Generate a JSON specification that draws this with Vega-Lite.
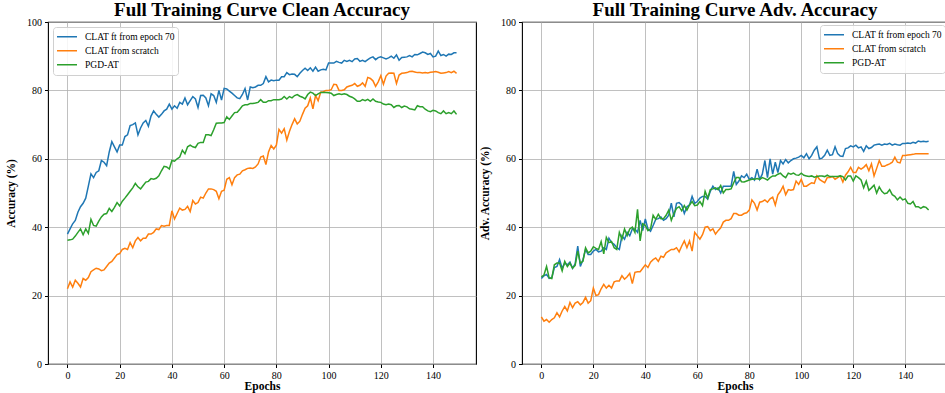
{
"$schema": "https://vega.github.io/schema/vega-lite/v6.json",
"padding": {"left": 4, "top": 0, "right": 2, "bottom": 0},
"config": {
 "font": "Liberation Serif",
 "view": {"stroke": "black", "strokeWidth": 1.1},
 "axis": {"labelFont": "Liberation Serif", "labelFontSize": 10, "labelColor": "black", "titleFont": "Liberation Serif", "titleFontSize": 11.5, "titleFontWeight": "bold", "titleColor": "black", "tickColor": "black", "tickSize": 3.5, "domain": false, "gridColor": "#b0b0b0", "gridWidth": 0.8, "gridOpacity": 1, "labelPadding": 3},
 "title": {"font": "Liberation Serif", "fontSize": 19, "fontWeight": "bold", "color": "black", "anchor": "middle", "offset": -3},
 "legend": {"labelFont": "Liberation Serif", "labelFontSize": 9.5, "labelColor": "black", "strokeColor": "#d0d0d0", "fillColor": "rgba(255,255,255,0.85)", "cornerRadius": 3, "padding": 3, "symbolType": "stroke", "symbolSize": 400, "symbolStrokeWidth": 1.5, "labelOffset": 7, "rowPadding": 0, "clipHeight": 13.3}
},
"datasets": {
"clean": [
{"e":0,"ft":38,"sc":22,"pgd":36.2},{"e":1,"ft":39.5,"sc":24,"pgd":36.3},{"e":2,"ft":41,"sc":22.5,"pgd":36.5},{"e":3,"ft":42,"sc":24.5,"pgd":37.4},{"e":4,"ft":44.4,"sc":23.6,"pgd":38.5},{"e":5,"ft":46,"sc":22.5,"pgd":39.5},{"e":6,"ft":47,"sc":25,"pgd":37.8},{"e":7,"ft":48.5,"sc":24.5,"pgd":39.5},{"e":8,"ft":52,"sc":25.3,"pgd":38.2},{"e":9,"ft":55.6,"sc":27,"pgd":42.3},
{"e":10,"ft":54.5,"sc":27.5,"pgd":40.5},{"e":11,"ft":56,"sc":28,"pgd":40.3},{"e":12,"ft":56.5,"sc":27.8,"pgd":41.8},{"e":13,"ft":59.5,"sc":27.3,"pgd":43},{"e":14,"ft":59,"sc":27.5,"pgd":43.8},{"e":15,"ft":58,"sc":28.5,"pgd":44},{"e":16,"ft":62,"sc":29.5,"pgd":45.5},{"e":17,"ft":65,"sc":30,"pgd":44.6},{"e":18,"ft":63.5,"sc":31,"pgd":45.8},{"e":19,"ft":62,"sc":32,"pgd":47.2},
{"e":20,"ft":64,"sc":32.3,"pgd":46.2},{"e":21,"ft":64,"sc":33.5,"pgd":47.6},{"e":22,"ft":66.5,"sc":33.8,"pgd":48.5},{"e":23,"ft":67,"sc":33.5,"pgd":49.5},{"e":24,"ft":69.7,"sc":35.5,"pgd":50.5},{"e":25,"ft":70,"sc":34,"pgd":51.5},{"e":26,"ft":70.5,"sc":36,"pgd":52.8},{"e":27,"ft":67,"sc":37,"pgd":51.8},{"e":28,"ft":69,"sc":36,"pgd":51.2},{"e":29,"ft":70.5,"sc":36.8,"pgd":52.2},
{"e":30,"ft":71.2,"sc":36.8,"pgd":53.2},{"e":31,"ft":69.5,"sc":38,"pgd":53.4},{"e":32,"ft":72.5,"sc":38,"pgd":54.2},{"e":33,"ft":74,"sc":38.5,"pgd":54},{"e":34,"ft":73,"sc":39.5,"pgd":54.3},{"e":35,"ft":72.2,"sc":39.3,"pgd":55},{"e":36,"ft":73,"sc":40.5,"pgd":56.5},{"e":37,"ft":74,"sc":40.3,"pgd":57.8},{"e":38,"ft":74.5,"sc":40.5,"pgd":57.6},{"e":39,"ft":76,"sc":40.5,"pgd":57},
{"e":40,"ft":74.5,"sc":44.8,"pgd":59.5},{"e":41,"ft":75.5,"sc":42.4,"pgd":59.3},{"e":42,"ft":74.8,"sc":44,"pgd":60},{"e":43,"ft":76.5,"sc":45.6,"pgd":60.5},{"e":44,"ft":76,"sc":45,"pgd":62.5},{"e":45,"ft":77.8,"sc":45.2,"pgd":61.5},{"e":46,"ft":75.8,"sc":46.1,"pgd":63.5},{"e":47,"ft":77,"sc":44.6,"pgd":64},{"e":48,"ft":78.2,"sc":47.8,"pgd":63.5},{"e":49,"ft":77.5,"sc":46.8,"pgd":63.3},
{"e":50,"ft":75,"sc":47.2,"pgd":64.5},{"e":51,"ft":78.5,"sc":48.8,"pgd":64.8},{"e":52,"ft":78.6,"sc":48.5,"pgd":64.8},{"e":53,"ft":77.8,"sc":50,"pgd":67},{"e":54,"ft":75.5,"sc":51.2,"pgd":67},{"e":55,"ft":79,"sc":51.2,"pgd":66.8},{"e":56,"ft":78.5,"sc":51,"pgd":68.5},{"e":57,"ft":76.5,"sc":50.5,"pgd":70.4},{"e":58,"ft":80,"sc":48.3,"pgd":70.5},{"e":59,"ft":77.2,"sc":50.5,"pgd":70.5},
{"e":60,"ft":80.6,"sc":50.8,"pgd":70.6},{"e":61,"ft":80.4,"sc":54,"pgd":72.3},{"e":62,"ft":79.8,"sc":54.5,"pgd":71.5},{"e":63,"ft":79.2,"sc":52.4,"pgd":72.5},{"e":64,"ft":78.5,"sc":54.5,"pgd":73.5},{"e":65,"ft":77.8,"sc":55.3,"pgd":73.6},{"e":66,"ft":77.6,"sc":55.5,"pgd":74.5},{"e":67,"ft":78.8,"sc":56.5,"pgd":75.5},{"e":68,"ft":80.5,"sc":56.8,"pgd":75.8},{"e":69,"ft":77.2,"sc":57.2,"pgd":75.8},
{"e":70,"ft":81,"sc":57.3,"pgd":76.2},{"e":71,"ft":80.8,"sc":57.2,"pgd":76.2},{"e":72,"ft":81,"sc":57.6,"pgd":76.3},{"e":73,"ft":81.5,"sc":58.5,"pgd":76.5},{"e":74,"ft":81.5,"sc":60.5,"pgd":77.3},{"e":75,"ft":82,"sc":60.8,"pgd":76.5},{"e":76,"ft":84,"sc":58.3,"pgd":76.5},{"e":77,"ft":82.5,"sc":62,"pgd":77},{"e":78,"ft":83,"sc":63.9,"pgd":77},{"e":79,"ft":82.8,"sc":62.9,"pgd":77.3},
{"e":80,"ft":83,"sc":64,"pgd":77.3},{"e":81,"ft":83,"sc":68.6,"pgd":77.3},{"e":82,"ft":84,"sc":67.5,"pgd":77.5},{"e":83,"ft":84,"sc":68.8,"pgd":78.2},{"e":84,"ft":85.2,"sc":65.5,"pgd":77.5},{"e":85,"ft":84.6,"sc":68,"pgd":78.2},{"e":86,"ft":84.8,"sc":70,"pgd":77.8},{"e":87,"ft":84.7,"sc":71.7,"pgd":78.5},{"e":88,"ft":84,"sc":70.2,"pgd":78.8},{"e":89,"ft":85,"sc":71,"pgd":78.3},
{"e":90,"ft":85.8,"sc":73,"pgd":78},{"e":91,"ft":86.5,"sc":74.8,"pgd":77.5},{"e":92,"ft":85.8,"sc":75.5,"pgd":78.8},{"e":93,"ft":86.6,"sc":77.8,"pgd":79.5},{"e":94,"ft":85.6,"sc":74.6,"pgd":79.2},{"e":95,"ft":86.8,"sc":78.5,"pgd":78.5},{"e":96,"ft":85.6,"sc":77,"pgd":79},{"e":97,"ft":86,"sc":79.5,"pgd":79.4},{"e":98,"ft":86.2,"sc":79.6,"pgd":79.4},{"e":99,"ft":86,"sc":80,"pgd":79.4},
{"e":100,"ft":88,"sc":80,"pgd":79.3},{"e":101,"ft":88,"sc":80.2,"pgd":79.2},{"e":102,"ft":88,"sc":81.8,"pgd":78.5},{"e":103,"ft":88.5,"sc":81.7,"pgd":78.8},{"e":104,"ft":88.2,"sc":80,"pgd":79},{"e":105,"ft":88,"sc":80,"pgd":78.8},{"e":106,"ft":88.8,"sc":80.2,"pgd":79},{"e":107,"ft":88.5,"sc":81,"pgd":78.8},{"e":108,"ft":88.8,"sc":81.3,"pgd":78.3},{"e":109,"ft":88.4,"sc":81.5,"pgd":78},
{"e":110,"ft":89.2,"sc":82,"pgd":77.5},{"e":111,"ft":89.3,"sc":81.2,"pgd":76.8},{"e":112,"ft":88.5,"sc":81.5,"pgd":76.8},{"e":113,"ft":88.8,"sc":82.2,"pgd":77.3},{"e":114,"ft":88.4,"sc":81.2,"pgd":77},{"e":115,"ft":89,"sc":83.8,"pgd":77.4},{"e":116,"ft":89.5,"sc":83.5,"pgd":76.8},{"e":117,"ft":89.8,"sc":82.8,"pgd":77.5},{"e":118,"ft":89,"sc":81.2,"pgd":76.8},{"e":119,"ft":89.6,"sc":82.5,"pgd":76.6},
{"e":120,"ft":89.8,"sc":84.3,"pgd":76.5},{"e":121,"ft":89.5,"sc":81.8,"pgd":76},{"e":122,"ft":89.2,"sc":84.2,"pgd":75.8},{"e":123,"ft":89.5,"sc":85,"pgd":76},{"e":124,"ft":90,"sc":85.1,"pgd":75.8},{"e":125,"ft":89.4,"sc":85,"pgd":75},{"e":126,"ft":90.4,"sc":82,"pgd":75.5},{"e":127,"ft":88.8,"sc":84.5,"pgd":75.6},{"e":128,"ft":89.6,"sc":85,"pgd":75},{"e":129,"ft":89.7,"sc":85.1,"pgd":75.4},
{"e":130,"ft":89.8,"sc":85.2,"pgd":75.2},{"e":131,"ft":90.2,"sc":85.5,"pgd":74.6},{"e":132,"ft":89.8,"sc":85.6,"pgd":74.5},{"e":133,"ft":90.5,"sc":85.4,"pgd":74.3},{"e":134,"ft":90.4,"sc":85.2,"pgd":75.5},{"e":135,"ft":90.8,"sc":85.2,"pgd":75.2},{"e":136,"ft":91.2,"sc":85.1,"pgd":75.2},{"e":137,"ft":91,"sc":85.2,"pgd":74.5},{"e":138,"ft":90.5,"sc":85.1,"pgd":74},{"e":139,"ft":90.8,"sc":85.3,"pgd":73.8},
{"e":140,"ft":89.8,"sc":85.4,"pgd":74.2},{"e":141,"ft":90,"sc":85.5,"pgd":74},{"e":142,"ft":91.5,"sc":85.3,"pgd":73.5},{"e":143,"ft":90.2,"sc":85,"pgd":73.2},{"e":144,"ft":90.5,"sc":85.1,"pgd":74},{"e":145,"ft":90,"sc":85.2,"pgd":73.2},{"e":146,"ft":90.6,"sc":85.5,"pgd":73.5},{"e":147,"ft":90.5,"sc":85.2,"pgd":73.2},{"e":148,"ft":91,"sc":85.6,"pgd":74},{"e":149,"ft":91,"sc":85,"pgd":73}
],
"adv": [
{"e":0,"ft":25,"sc":13.8,"pgd":25.5},{"e":1,"ft":25.8,"sc":12.5,"pgd":26},{"e":2,"ft":26.2,"sc":13,"pgd":28.5},{"e":3,"ft":25,"sc":12.2,"pgd":25.2},{"e":4,"ft":25.2,"sc":13,"pgd":25},{"e":5,"ft":28.2,"sc":13.5,"pgd":29},{"e":6,"ft":28.5,"sc":15,"pgd":29.5},{"e":7,"ft":30.5,"sc":13.8,"pgd":29.5},{"e":8,"ft":28,"sc":15.5,"pgd":27.2},{"e":9,"ft":29.5,"sc":16.8,"pgd":30},
{"e":10,"ft":29,"sc":15.5,"pgd":28.5},{"e":11,"ft":29.8,"sc":18,"pgd":29.5},{"e":12,"ft":28,"sc":16.5,"pgd":28},{"e":13,"ft":29.3,"sc":17.8,"pgd":28.8},{"e":14,"ft":34.5,"sc":18.2,"pgd":33},{"e":15,"ft":28.5,"sc":17.3,"pgd":29.5},{"e":16,"ft":30.5,"sc":18,"pgd":30},{"e":17,"ft":33.5,"sc":19.5,"pgd":34},{"e":18,"ft":32,"sc":17.8,"pgd":32.5},{"e":19,"ft":32,"sc":18.5,"pgd":33},
{"e":20,"ft":33,"sc":22.2,"pgd":34.3},{"e":21,"ft":33.5,"sc":20,"pgd":33.8},{"e":22,"ft":32.8,"sc":20.3,"pgd":33.5},{"e":23,"ft":33,"sc":22,"pgd":35.8},{"e":24,"ft":34,"sc":23.3,"pgd":32.2},{"e":25,"ft":33.5,"sc":22.2,"pgd":37},{"e":26,"ft":36.8,"sc":23,"pgd":35.5},{"e":27,"ft":35.5,"sc":22.2,"pgd":35.8},{"e":28,"ft":35,"sc":24,"pgd":34},{"e":29,"ft":34,"sc":24.3,"pgd":33.5},
{"e":30,"ft":33.5,"sc":24.3,"pgd":38.5},{"e":31,"ft":37.5,"sc":25.8,"pgd":36.5},{"e":32,"ft":36.5,"sc":24.8,"pgd":39.5},{"e":33,"ft":38.5,"sc":25.5,"pgd":37.5},{"e":34,"ft":37.5,"sc":26.5,"pgd":39.5},{"e":35,"ft":39.5,"sc":23.5,"pgd":40},{"e":36,"ft":39.5,"sc":26.8,"pgd":38.5},{"e":37,"ft":38.5,"sc":27,"pgd":45.2},{"e":38,"ft":42,"sc":27,"pgd":36},{"e":39,"ft":39,"sc":28,"pgd":41},
{"e":40,"ft":42.4,"sc":29,"pgd":40.5},{"e":41,"ft":39.5,"sc":28.2,"pgd":39},{"e":42,"ft":38.8,"sc":29.8,"pgd":39.5},{"e":43,"ft":40.5,"sc":30.5,"pgd":43.5},{"e":44,"ft":42.3,"sc":31,"pgd":42.3},{"e":45,"ft":42.5,"sc":30,"pgd":43.8},{"e":46,"ft":43,"sc":31.5,"pgd":42.5},{"e":47,"ft":42,"sc":31.2,"pgd":42.5},{"e":48,"ft":42.5,"sc":32.5,"pgd":43.5},{"e":49,"ft":43.5,"sc":33,"pgd":45},
{"e":50,"ft":47,"sc":33.5,"pgd":42},{"e":51,"ft":43,"sc":33.5,"pgd":44},{"e":52,"ft":47,"sc":34,"pgd":45.5},{"e":53,"ft":47.2,"sc":32.8,"pgd":46},{"e":54,"ft":46.5,"sc":34.5,"pgd":44.8},{"e":55,"ft":44,"sc":36,"pgd":46.3},{"e":56,"ft":46,"sc":34,"pgd":45},{"e":57,"ft":46.5,"sc":36,"pgd":46.5},{"e":58,"ft":49,"sc":33,"pgd":47.5},{"e":59,"ft":47,"sc":38.5,"pgd":46.3},
{"e":60,"ft":47.5,"sc":37.5,"pgd":46.5},{"e":61,"ft":48.5,"sc":36.5,"pgd":47.5},{"e":62,"ft":49,"sc":37.8,"pgd":46.3},{"e":63,"ft":49,"sc":40,"pgd":50.5},{"e":64,"ft":48.2,"sc":40.2,"pgd":48.5},{"e":65,"ft":50.5,"sc":39,"pgd":51},{"e":66,"ft":52,"sc":39.5,"pgd":51.2},{"e":67,"ft":51,"sc":38,"pgd":51.5},{"e":68,"ft":51.5,"sc":39,"pgd":51},{"e":69,"ft":50,"sc":39.8,"pgd":52.2},
{"e":70,"ft":52,"sc":41.5,"pgd":50},{"e":71,"ft":52,"sc":42,"pgd":51},{"e":72,"ft":52,"sc":42,"pgd":51},{"e":73,"ft":52,"sc":42.5,"pgd":51.2},{"e":74,"ft":56.3,"sc":44,"pgd":53},{"e":75,"ft":52.5,"sc":44,"pgd":54.5},{"e":76,"ft":53.5,"sc":43.5,"pgd":54.5},{"e":77,"ft":55,"sc":43.5,"pgd":53.3},{"e":78,"ft":54.5,"sc":44,"pgd":53.2},{"e":79,"ft":55.5,"sc":44.2,"pgd":53.5},
{"e":80,"ft":54,"sc":45,"pgd":53.8},{"e":81,"ft":54.5,"sc":48,"pgd":54},{"e":82,"ft":53.8,"sc":47,"pgd":54},{"e":83,"ft":57,"sc":45,"pgd":54.2},{"e":84,"ft":54,"sc":47.3,"pgd":54},{"e":85,"ft":55.5,"sc":47.5,"pgd":54.5},{"e":86,"ft":59.5,"sc":48,"pgd":54.2},{"e":87,"ft":54.5,"sc":47.3,"pgd":53.8},{"e":88,"ft":60,"sc":48.3,"pgd":54.5},{"e":89,"ft":55.5,"sc":48.8,"pgd":55},
{"e":90,"ft":59,"sc":46.5,"pgd":55},{"e":91,"ft":56,"sc":49.5,"pgd":55.5},{"e":92,"ft":59.5,"sc":50.5,"pgd":55.8},{"e":93,"ft":58.5,"sc":52,"pgd":55},{"e":94,"ft":59.8,"sc":49.5,"pgd":54.5},{"e":95,"ft":58.8,"sc":51,"pgd":55.8},{"e":96,"ft":59.5,"sc":50.8,"pgd":55.5},{"e":97,"ft":60,"sc":51,"pgd":55.8},{"e":98,"ft":60.2,"sc":53.5,"pgd":55.3},{"e":99,"ft":60.5,"sc":52.5,"pgd":55.2},
{"e":100,"ft":61,"sc":54,"pgd":55.8},{"e":101,"ft":60.3,"sc":52,"pgd":55.2},{"e":102,"ft":61.5,"sc":52,"pgd":55},{"e":103,"ft":60,"sc":52.5,"pgd":54.8},{"e":104,"ft":61,"sc":53,"pgd":55},{"e":105,"ft":62.5,"sc":52.8,"pgd":54.6},{"e":106,"ft":63.5,"sc":55,"pgd":54.8},{"e":107,"ft":60,"sc":54,"pgd":55},{"e":108,"ft":60.2,"sc":53.5,"pgd":55},{"e":109,"ft":61,"sc":53,"pgd":54.8},
{"e":110,"ft":62.5,"sc":54.5,"pgd":55.2},{"e":111,"ft":61,"sc":54.5,"pgd":54.8},{"e":112,"ft":61.2,"sc":54.8,"pgd":54.8},{"e":113,"ft":63.5,"sc":54,"pgd":54.8},{"e":114,"ft":61.5,"sc":54.5,"pgd":54.8},{"e":115,"ft":60.8,"sc":55,"pgd":55},{"e":116,"ft":60.7,"sc":53.2,"pgd":54.8},{"e":117,"ft":63,"sc":55.2,"pgd":53.8},{"e":118,"ft":63.2,"sc":56.2,"pgd":55},{"e":119,"ft":63.8,"sc":57.5,"pgd":55},
{"e":120,"ft":63.5,"sc":56,"pgd":53.5},{"e":121,"ft":64,"sc":56,"pgd":55},{"e":122,"ft":63.2,"sc":57.5,"pgd":54.5},{"e":123,"ft":63.5,"sc":57,"pgd":53.8},{"e":124,"ft":62.2,"sc":57.5,"pgd":51.5},{"e":125,"ft":63.8,"sc":58.3,"pgd":53.5},{"e":126,"ft":63,"sc":56.5,"pgd":50.8},{"e":127,"ft":63.3,"sc":58.5,"pgd":51.5},{"e":128,"ft":64,"sc":55,"pgd":52.3},{"e":129,"ft":64.2,"sc":57.2,"pgd":50},
{"e":130,"ft":64.3,"sc":59.5,"pgd":51.8},{"e":131,"ft":64,"sc":57.8,"pgd":50.5},{"e":132,"ft":64.3,"sc":57.8,"pgd":49.8},{"e":133,"ft":64.2,"sc":58.2,"pgd":50},{"e":134,"ft":64.5,"sc":58.5,"pgd":51},{"e":135,"ft":64,"sc":59,"pgd":49.5},{"e":136,"ft":64.3,"sc":60.5,"pgd":49},{"e":137,"ft":64.1,"sc":59,"pgd":48},{"e":138,"ft":64,"sc":58.8,"pgd":48.8},{"e":139,"ft":64.5,"sc":61,"pgd":48},
{"e":140,"ft":64.5,"sc":61,"pgd":48.3},{"e":141,"ft":64.6,"sc":61.1,"pgd":47},{"e":142,"ft":64.5,"sc":61.2,"pgd":46.8},{"e":143,"ft":64.8,"sc":61.3,"pgd":47.5},{"e":144,"ft":64.6,"sc":61.5,"pgd":46},{"e":145,"ft":65.2,"sc":61.5,"pgd":46},{"e":146,"ft":65,"sc":61.5,"pgd":45.5},{"e":147,"ft":65.1,"sc":61.5,"pgd":46},{"e":148,"ft":65,"sc":61.5,"pgd":45.8},{"e":149,"ft":65.1,"sc":61.5,"pgd":45}
]
},
"spacing": 1,
"resolve": {"scale": {"color": "independent"}, "legend": {"color": "independent"}},
"hconcat": [
{
 "width": 428, "height": 342,
 "title": "Full Training Curve Clean Accuracy",
 "data": {"name": "clean"},
 "transform": [{"fold": ["ft", "sc", "pgd"], "as": ["s", "v"]}],
 "mark": {"type": "line", "strokeWidth": 1.5},
 "encoding": {
  "x": {"field": "e", "type": "quantitative", "scale": {"domain": [-7.45, 156.45], "nice": false, "zero": false}, "axis": {"values": [0, 20, 40, 60, 80, 100, 120, 140], "title": "Epochs", "titlePadding": 0}},
  "y": {"field": "v", "type": "quantitative", "scale": {"domain": [0, 100], "nice": false}, "axis": {"values": [0, 20, 40, 60, 80, 100], "title": "Accuracy (%)", "titlePadding": 10}},
  "color": {"field": "s", "type": "nominal", "sort": ["ft", "sc", "pgd"], "scale": {"domain": ["ft", "sc", "pgd"], "range": ["#1f77b4", "#ff7f0e", "#2ca02c"]}, "legend": {"orient": "top-left", "offset": 5, "title": null, "labelExpr": "datum.label == 'ft' ? 'CLAT ft from epoch 70' : datum.label == 'sc' ? 'CLAT from scratch' : 'PGD-AT'"}}
 }
},
{
 "width": 426, "height": 342,
 "title": "Full Training Curve Adv. Accuracy",
 "data": {"name": "adv"},
 "transform": [{"fold": ["ft", "sc", "pgd"], "as": ["s", "v"]}],
 "mark": {"type": "line", "strokeWidth": 1.5},
 "encoding": {
  "x": {"field": "e", "type": "quantitative", "scale": {"domain": [-7.45, 156.45], "nice": false, "zero": false}, "axis": {"values": [0, 20, 40, 60, 80, 100, 120, 140], "title": "Epochs", "titlePadding": 0}},
  "y": {"field": "v", "type": "quantitative", "scale": {"domain": [0, 100], "nice": false}, "axis": {"values": [0, 20, 40, 60, 80, 100], "title": "Adv. Accuracy (%)", "titlePadding": 10}},
  "color": {"field": "s", "type": "nominal", "sort": ["ft", "sc", "pgd"], "scale": {"domain": ["ft", "sc", "pgd"], "range": ["#1f77b4", "#ff7f0e", "#2ca02c"]}, "legend": {"orient": "top-right", "offset": 3, "title": null, "labelExpr": "datum.label == 'ft' ? 'CLAT ft from epoch 70' : datum.label == 'sc' ? 'CLAT from scratch' : 'PGD-AT'"}}
 }
}
]
}
